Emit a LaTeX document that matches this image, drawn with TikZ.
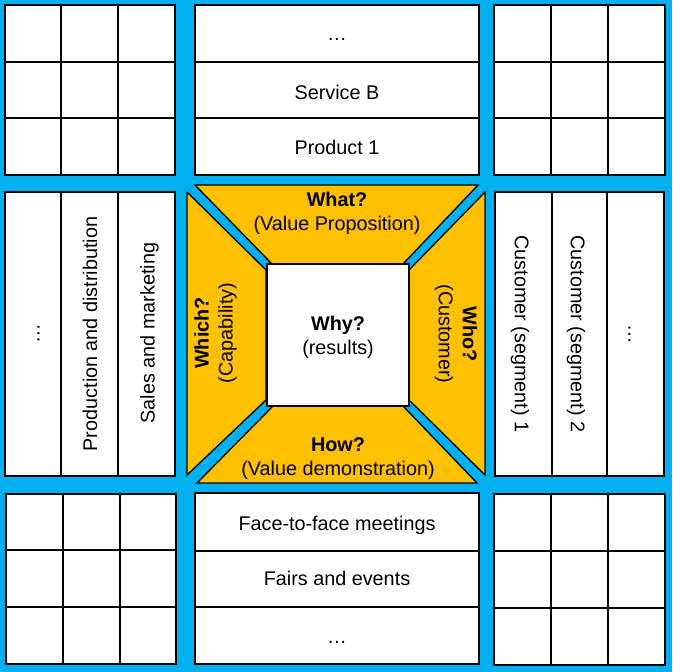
\documentclass[tikz,border=0pt]{standalone}
\usepackage{fontspec}
\setmainfont{Liberation Sans}
\definecolor{bgblue}{HTML}{00B0F0}
\definecolor{gold}{HTML}{FFC000}
\begin{document}
\begin{tikzpicture}[x=1pt,y=-1pt,
  frame/.style={draw=black,line width=1.3pt,fill=white},
  gline/.style={draw=black,line width=1.3pt},
  trap/.style={draw=black,line width=1.3pt,fill=gold,line join=miter},
  txt2/.style={font=\fontsize{19.8}{24}\selectfont,align=center,text=black,inner sep=0pt},
  txt/.style={txt2,text height=14.2pt,text depth=0pt}]
\useasboundingbox (0,0) rectangle (672,672);
\fill[bgblue] (0,0) rectangle (672,672);
% top-left grid
\draw[frame] (5,5) rectangle (175,175);
\draw[gline] (61,5)--(61,175) (118,5)--(118,175) (5,62)--(175,62) (5,118)--(175,118);
% top-right grid
\draw[frame] (494,5) rectangle (665,175);
\draw[gline] (551,5)--(551,175) (608,5)--(608,175) (494,62)--(665,62) (494,118)--(665,118);
% bottom-left grid
\draw[frame] (6,494) rectangle (176,664);
\draw[gline] (63,494)--(63,664) (120,494)--(120,664) (6,550)--(176,550) (6,607)--(176,607);
% bottom-right grid
\draw[frame] (494,494) rectangle (665,665);
\draw[gline] (551,494)--(551,665) (608,494)--(608,665) (494,551)--(665,551) (494,608)--(665,608);
% top-middle list
\draw[frame] (195,5) rectangle (479,175);
\draw[gline] (195,62)--(479,62) (195,118)--(479,118);
\node[txt] (t1) at (337,33) {…};
\node[txt] (t2) at (337,92) {Service B};
\node[txt] (t3) at (337,147) {Product 1};
% bottom-middle list
\draw[frame] (195,493) rectangle (479,664);
\draw[gline] (195,551)--(479,551) (195,607)--(479,607);
\node[txt] (b1) at (337,523) {Face-to-face meetings};
\node[txt] (b2) at (337,578.5) {Fairs and events};
\node[txt] (b3) at (337,636) {…};
% middle-left columns
\draw[frame] (5,192) rectangle (175,476);
\draw[gline] (61,192)--(61,476) (118,192)--(118,476);
\node[txt,rotate=90] (l1) at (32.5,334) {…};
\node[txt,rotate=90] (l2) at (90,334) {Production and distribution};
\node[txt,rotate=90] (l3) at (147.5,333) {Sales and marketing};
% middle-right columns
\draw[frame] (495,192) rectangle (664,476);
\draw[gline] (552,192)--(552,476) (607,192)--(607,476);
\node[txt,rotate=-90] (r1) at (522,334) {Customer (segment) 1};
\node[txt,rotate=-90] (r2) at (578,334) {Customer (segment) 2};
\node[txt,rotate=-90] (r3) at (635.5,334) {…};
% central trapezoids
\draw[trap] (195,185) -- (478,185) -- (403,264) -- (272,264) -- cycle;
\draw[trap] (187,192) -- (266,270) -- (266,400) -- (187,475) -- cycle;
\draw[trap] (485,192) -- (409,270) -- (409,400) -- (485,475) -- cycle;
\draw[trap] (197,483) -- (477,483) -- (403,406) -- (273,406) -- cycle;
\node[draw=black,line width=1.3pt,fill=white,minimum width=142pt,minimum height=142pt,inner sep=0pt] (sq) at (338,335) {};
\node[txt2] (why) at (338,337) {\textbf{Why?}\\(results)};
\node[txt2] (what) at (337,213) {\textbf{What?}\\(Value Proposition)};
\node[txt2] (how) at (338,458.5) {\textbf{How?}\\(Value demonstration)};
\node[txt2,rotate=90] (which) at (215.5,333) {\textbf{Which?}\\(Capability)};
\node[txt2,rotate=-90] (who) at (456,334) {\textbf{Who?}\\(Customer)};
\end{tikzpicture}
\end{document}
